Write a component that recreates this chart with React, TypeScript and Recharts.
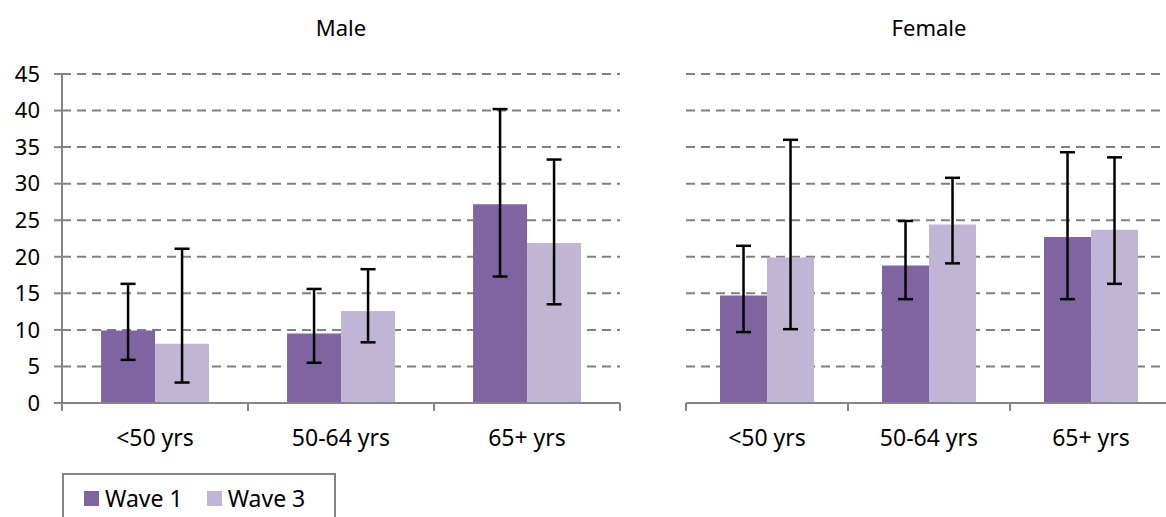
import { BarChart, Bar, XAxis, YAxis, CartesianGrid, ErrorBar } from 'recharts'

const categories = ['<50 yrs', '50-64 yrs', '65+ yrs']
const yTicks = [0, 5, 10, 15, 20, 25, 30, 35, 40, 45]

const maleWave1 = [9.9, 9.5, 27.2]
const maleWave1Lo = [5.9, 5.5, 17.3]
const maleWave1Hi = [16.3, 15.6, 40.2]
const maleWave3 = [8.1, 12.6, 21.9]
const maleWave3Lo = [2.8, 8.3, 13.5]
const maleWave3Hi = [21.1, 18.3, 33.3]

const femaleWave1 = [14.7, 18.8, 22.7]
const femaleWave1Lo = [9.7, 14.2, 14.2]
const femaleWave1Hi = [21.5, 24.9, 34.3]
const femaleWave3 = [19.9, 24.4, 23.7]
const femaleWave3Lo = [10.1, 19.1, 16.3]
const femaleWave3Hi = [36.0, 30.8, 33.6]

const W1 = '#8064a2'
const W3 = '#c0b5d5'
const AXIS = '#858585'
const FONT = "'Noto Sans', sans-serif"
const LABEL_GAP = 27

const build = (w1: number[], w1lo: number[], w1hi: number[], w3: number[], w3lo: number[], w3hi: number[]) =>
  categories.map((name, i) => ({
    name,
    w1: w1[i],
    w1err: [w1[i] - w1lo[i], w1hi[i] - w1[i]],
    w3: w3[i],
    w3err: [w3[i] - w3lo[i], w3hi[i] - w3[i]],
  }))

const maleData = build(maleWave1, maleWave1Lo, maleWave1Hi, maleWave3, maleWave3Lo, maleWave3Hi)
const femaleData = build(femaleWave1, femaleWave1Lo, femaleWave1Hi, femaleWave3, femaleWave3Lo, femaleWave3Hi)

// label in the middle of the band, tick marks on the band edges (Excel style)
const CatTick = ({ x, y, payload, index, visibleTicksCount }: any) => {
  const half = payload?.offset ?? 0
  const top = y - LABEL_GAP
  const last = index === visibleTicksCount - 1
  return (
    <g>
      <line x1={x - half} x2={x - half} y1={top} y2={top + 8} stroke={AXIS} strokeWidth={2} />
      {last && <line x1={x + half} x2={x + half} y1={top} y2={top + 8} stroke={AXIS} strokeWidth={2} />}
      <text x={x} y={y} dy="0.71em" textAnchor="middle" fill="#000" fontSize={23} fontFamily={FONT}>
        {payload.value}
      </text>
    </g>
  )
}

function Panel({ data, width, marginLeft, showY }: { data: any[]; width: number; marginLeft: number; showY: boolean }) {
  return (
    <BarChart
      width={width} height={460} data={data}
      margin={{ top: 74, right: 20, bottom: 56, left: marginLeft }}
      barCategoryGap="21%" barGap={0}
    >
      <CartesianGrid vertical={false} stroke="#808080" strokeWidth={2} strokeDasharray="9 6" />
      <XAxis
        dataKey="name" height={1} interval={0}
        axisLine={{ stroke: AXIS, strokeWidth: 2 }}
        tickLine={false} tickSize={0} tickMargin={LABEL_GAP}
        tick={CatTick}
      />
      <YAxis
        domain={[0, 45]} ticks={yTicks} width={showY ? 62 : 0} hide={!showY}
        interval={0} stroke={AXIS}
        axisLine={{ stroke: AXIS, strokeWidth: 2 }}
        tickLine={{ stroke: AXIS, strokeWidth: 2 }} tickSize={8} tickMargin={14}
        tick={{ fill: '#000', fontSize: 22, fontFamily: FONT }}
      />
      <Bar dataKey="w1" fill={W1} isAnimationActive={false}>
        <ErrorBar dataKey="w1err" width={7.5} stroke="#000" strokeWidth={2.5} isAnimationActive={false} />
      </Bar>
      <Bar dataKey="w3" fill={W3} isAnimationActive={false}>
        <ErrorBar dataKey="w3err" width={7.5} stroke="#000" strokeWidth={2.5} isAnimationActive={false} />
      </Bar>
    </BarChart>
  )
}

export default function App() {
  const title = { position: 'absolute' as const, top: 12, fontSize: 22, fontFamily: FONT, color: '#000', textAlign: 'center' as const }
  const swatch = (c: string) => ({ display: 'inline-block', width: 15, height: 15, background: c, marginRight: 6 })
  return (
    <div style={{ position: 'absolute', left: 0, top: 0, width: 1166, height: 517, overflow: 'hidden', background: '#fff' }}>
      <div style={{ ...title, left: 62, width: 558 }}>Male</div>
      <div style={{ ...title, left: 686, width: 486 }}>Female</div>
      <div style={{ position: 'absolute', left: 0, top: 0 }}>
        <Panel data={maleData} width={640} marginLeft={0} showY />
      </div>
      <div style={{ position: 'absolute', left: 660, top: 0 }}>
        <Panel data={femaleData} width={532} marginLeft={26} showY={false} />
      </div>
      <div style={{
        position: 'absolute', left: 62, top: 473, width: 270, height: 60,
        border: `2px solid ${AXIS}`, fontFamily: FONT, fontSize: 23, color: '#000',
      }}>
        <div style={{ display: 'flex', alignItems: 'center', marginTop: 7, marginLeft: 20 }}>
          <span style={swatch(W1)} />Wave 1
          <span style={{ ...swatch(W3), marginLeft: 24 }} />Wave 3
        </div>
      </div>
    </div>
  )
}
